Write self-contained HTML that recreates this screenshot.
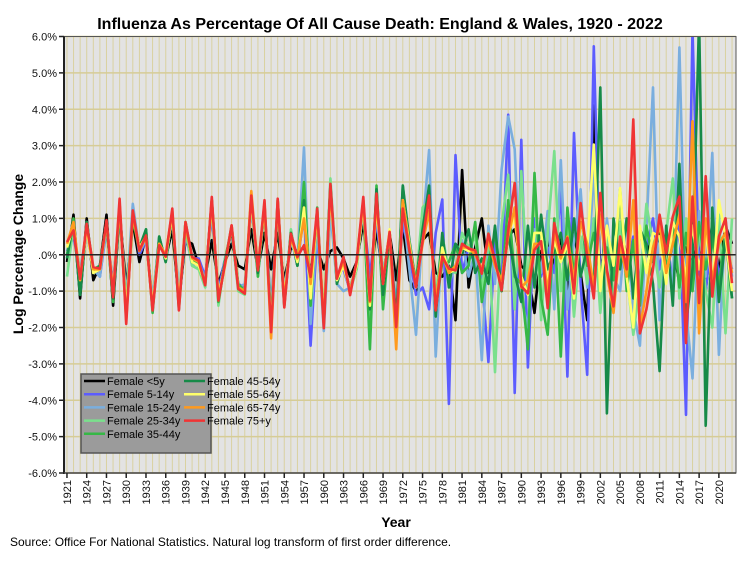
<!DOCTYPE html>
<html><head><meta charset="utf-8">
<style>
html,body{margin:0;padding:0;background:#fff;}
svg{display:block;font-family:"Liberation Sans",Arial,sans-serif;}
</style></head>
<body>
<svg id="chart" width="754" height="564" xmlns="http://www.w3.org/2000/svg">
<rect x="0" y="0" width="754" height="564" fill="#ffffff"/>
<text x="380" y="29" text-anchor="middle" font-size="16" font-weight="bold">Influenza As Percentage Of All Cause Death: England &amp; Wales, 1920 - 2022</text>
<text transform="translate(23,254) rotate(-90)" text-anchor="middle" font-size="14" font-weight="bold">Log Percentage Change</text>
<text x="396" y="527" text-anchor="middle" font-size="14" font-weight="bold">Year</text>
<text x="10" y="546" font-size="12">Source: Office For National Statistics. Natural log transform of first order difference.</text>
<g id="plot"></g>
</svg>
<script>
const years = [];
for (let y = 1921; y <= 2022; y++) years.push(y);
const yTicks = [6,5,4,3,2,1,0,-1,-2,-3,-4,-5,-6];
const yTickLabels = ["6.0%","5.0%","4.0%","3.0%","2.0%","1.0%",".0%","-1.0%","-2.0%","-3.0%","-4.0%","-5.0%","-6.0%"];
const xTickYears = [1921,1924,1927,1930,1933,1936,1939,1942,1945,1948,1951,1954,1957,1960,1963,1966,1969,1972,1975,1978,1981,1984,1987,1990,1993,1996,1999,2002,2005,2008,2011,2014,2017,2020];
const seriesNames = ["Female <5y","Female 5-14y","Female 15-24y","Female 25-34y","Female 35-44y","Female 45-54y","Female 55-64y","Female 65-74y","Female 75+y"];

const female_lt5 = [-0.2,1.1,-1.2,1.0,-0.7,-0.3,1.1,-1.4,1.2,-0.9,
0.9,-0.2,0.5,-1.4,0.4,-0.1,0.7,-1.3,0.4,0.3,
-0.3,-0.6,0.4,-0.8,-0.2,0.3,-0.3,-0.4,0.7,-0.4,
0.6,-0.4,0.6,-0.7,0.2,0.1,0.2,-0.4,0.2,-0.4,
0.1,0.2,-0.1,-0.6,-0.2,0.9,-0.8,0.7,-0.6,0.6,
-0.7,0.8,-0.7,-1.0,0.4,0.6,-0.5,-0.6,-0.3,-1.8,
2.33,-0.9,0.2,1.0,-0.5,0.3,-0.6,0.5,0.7,-0.3,
-0.5,-1.6,0.1,0.4,-0.3,0.5,-1.0,0.6,-0.5,-1.8,
4.1,-0.5,0.6,-0.3,0.9,-0.1,0.3,-0.9,0.4,-0.2,
0.6,-0.5,0.3,-0.8,0.2,-0.3,0.6,-1.0,0.9,-0.5,
0.8,0.3];
const female_5_14 = [0.1,0.5,-0.5,0.6,-0.4,-0.6,0.7,-0.8,1.2,-1.3,
1.2,0.0,0.4,-1.3,0.3,-0.1,1.0,-1.2,0.5,-0.1,
-0.1,-0.6,1.1,-1.0,-0.1,0.6,-0.8,-0.9,1.4,-0.5,
1.2,-1.5,1.3,-1.2,0.5,-0.3,1.2,-2.5,0.6,-1.8,
1.2,-0.5,-0.4,-1.0,-0.2,1.2,-0.6,1.0,-0.9,0.5,
-1.5,0.9,0.0,-1.1,-0.9,-1.5,0.6,1.52,-4.1,2.74,
-0.5,0.2,-0.3,-0.6,-2.95,0.4,-0.8,3.85,-3.8,3.16,
-3.1,1.0,-0.6,0.2,-0.5,1.79,-3.35,3.35,-0.8,-3.3,
5.73,-1.0,0.9,-0.6,0.3,-0.4,0.5,-0.8,0.2,1.0,
-0.4,0.6,-0.8,1.0,-4.4,6.2,-0.5,-1.0,0.8,-0.6,
0.3,-0.4];
const female_15_24 = [0.0,0.6,-0.4,0.6,-0.4,-0.6,0.8,-1.0,1.2,-1.2,
1.4,0.1,0.4,-1.2,0.4,-0.1,1.0,-1.0,0.6,-0.3,
-0.2,-0.7,1.3,-1.1,-0.2,0.7,-0.9,-0.8,1.4,-0.4,
1.2,-1.6,1.2,-1.0,0.4,-0.2,2.95,-1.9,0.8,-2.1,
1.2,-0.8,-1.0,-0.9,-0.3,1.3,-1.1,1.2,-0.5,0.5,
-1.4,1.3,-0.4,-2.2,0.7,2.88,-2.8,0.6,-0.8,-0.3,
0.4,-0.6,0.1,-2.9,0.8,-0.8,2.34,3.8,2.9,-1.2,
-2.0,0.7,-0.5,1.2,-1.5,2.6,-1.5,0.4,1.8,-0.9,
2.3,-0.8,1.0,-0.6,-1.0,1.0,-1.5,-2.5,0.7,4.6,
-1.8,0.6,-1.0,5.7,-1.5,-3.4,1.2,-0.6,2.8,-2.75,
1.0,-0.6];
const female_25_34 = [-0.6,0.8,-1.0,0.9,-0.5,-0.4,0.8,-1.2,1.3,-1.4,
1.2,0.1,0.6,-1.5,0.4,-0.1,1.1,-1.4,0.7,-0.3,
-0.4,-0.9,1.4,-1.4,-0.1,0.7,-1.0,-1.1,1.5,-0.6,
1.3,-1.8,1.3,-1.4,0.7,-0.3,2.0,-1.0,1.0,-1.7,
2.1,-0.7,-0.3,-1.0,-0.4,1.4,-1.7,1.6,-0.6,0.5,
-2.2,1.8,0.1,-0.8,1.3,1.5,-1.2,0.5,-0.4,-0.5,
0.6,0.2,0.5,-1.0,0.6,-3.23,0.8,2.2,-1.5,2.3,
-1.0,2.0,-1.8,0.6,2.85,-1.0,0.8,-1.7,0.5,-0.8,
1.0,-1.6,0.5,-1.3,0.9,-0.5,-2.2,-0.8,1.4,0.3,
-0.9,0.6,2.1,-1.2,1.0,-0.8,0.7,-1.0,-2.0,1.1,
-2.16,1.0];
const female_35_44 = [0.0,1.0,-1.1,0.9,-0.4,-0.3,0.9,-1.3,1.4,-1.7,
1.0,0.1,0.7,-1.6,0.5,-0.2,1.1,-1.5,0.9,-0.1,
-0.3,-0.8,1.5,-1.3,-0.2,0.8,-0.8,-1.0,1.6,-0.6,
1.4,-1.9,1.5,-1.3,0.6,-0.3,2.0,-1.4,1.3,-1.9,
1.9,-0.7,-0.2,-1.0,-0.2,1.5,-2.6,1.9,-1.5,0.6,
-2.0,1.9,0.1,-0.7,0.6,1.6,-1.5,-0.2,-0.2,0.3,
-0.5,-0.3,0.9,-1.3,-0.2,0.6,-1.0,1.5,-0.6,-0.8,
-2.6,2.25,-1.2,-2.2,1.0,-2.8,1.3,-0.6,1.2,-0.3,
0.6,-0.5,0.2,-0.7,1.8,-1.0,0.4,-1.4,0.8,-0.2,
0.9,-0.4,0.8,-0.9,0.6,-1.0,0.9,-0.4,0.5,-0.9,
0.7,-1.2];
const female_45_54 = [-0.1,0.9,-1.1,0.9,-0.5,-0.3,0.9,-1.2,1.3,-1.6,
1.1,0.2,0.7,-1.5,0.5,-0.2,1.1,-1.4,0.9,-0.2,
-0.3,-0.8,1.5,-1.2,-0.2,0.7,-0.9,-1.0,1.6,-0.5,
1.3,-2.0,1.4,-1.4,0.6,-0.3,1.5,-1.2,1.2,-1.9,
1.9,-0.8,-0.2,-1.0,-0.3,1.4,-1.5,1.8,-1.1,0.6,
-1.8,1.9,0.4,-0.8,0.7,1.9,-1.7,0.6,-0.9,0.3,
0.0,0.7,-0.5,-0.1,-0.8,0.8,-1.0,0.6,-0.5,-1.3,
0.8,-0.9,1.1,-0.4,0.1,0.6,-0.7,1.0,-0.6,0.2,
-1.0,4.6,-4.36,1.0,-0.4,1.0,-1.2,0.7,0.3,-0.8,
-3.2,0.8,-1.4,2.5,-1.9,-0.4,6.5,-4.7,1.3,-1.3,
0.5,-1.2];
const female_55_64 = [0.2,0.8,-0.6,0.7,-0.5,-0.4,0.9,-1.0,1.4,-1.6,
1.1,0.2,0.5,-1.4,0.3,-0.1,1.1,-1.3,0.9,-0.2,
-0.3,-0.8,1.4,-1.1,-0.3,0.8,-0.9,-1.0,1.5,-0.4,
1.3,-2.0,1.4,-1.2,0.5,-0.2,1.3,-1.2,1.2,-1.8,
1.7,-0.7,-0.3,-1.0,-0.3,1.4,-1.4,1.4,-0.8,0.7,
-2.2,1.5,0.3,-0.9,0.4,1.3,-1.5,0.2,-0.5,-0.4,
0.2,0.1,0.1,-0.5,0.5,-0.3,-0.8,0.6,1.0,-0.6,
-1.1,0.6,0.6,-0.8,0.4,-0.2,0.3,-1.2,1.0,0.1,
3.03,-1.0,0.8,-0.3,1.83,-0.6,-2.0,0.8,-0.5,0.6,
0.5,-0.8,0.9,0.5,-0.6,0.8,-0.4,0.7,-0.9,1.5,
0.5,-1.0];
const female_65_74 = [0.3,0.9,-0.7,0.8,-0.4,-0.4,0.9,-1.1,1.4,-1.8,
1.1,0.1,0.5,-1.5,0.3,0.0,1.2,-1.4,0.8,-0.1,
-0.2,-0.8,1.5,-1.2,-0.3,0.8,-0.9,-1.0,1.75,-0.4,
1.4,-2.3,1.5,-1.3,0.5,-0.1,1.0,-0.8,1.2,-1.9,
1.8,-0.6,-0.2,-1.0,-0.2,1.5,-1.3,1.5,-0.7,0.6,
-2.6,1.5,0.2,-0.8,0.3,1.2,-1.3,0.0,-0.5,-0.3,
0.2,0.2,0.0,-0.4,0.4,-0.3,-0.7,0.5,1.3,-0.9,
-0.7,0.3,0.3,-1.0,0.6,-0.1,0.5,-0.7,0.9,0.3,
-0.9,1.1,-0.5,-1.6,0.3,-0.6,1.5,-2.0,-1.0,0.2,
0.8,-0.5,0.3,1.1,-1.3,3.67,-2.16,1.0,-0.7,0.3,
0.6,-0.5];
const female_75plus = [0.35,0.67,-0.66,0.85,-0.34,-0.38,0.95,-1.17,1.54,-1.9,
1.22,0.12,0.53,-1.53,0.26,-0.06,1.27,-1.53,0.9,-0.06,
-0.16,-0.84,1.59,-1.26,-0.25,0.81,-0.94,-1.07,1.63,-0.43,
1.5,-2.13,1.54,-1.45,0.58,-0.06,0.26,-0.61,1.27,-2.02,
1.95,-0.66,-0.06,-1.11,-0.16,1.59,-1.26,1.68,-0.8,0.63,
-1.99,1.27,0.12,-0.89,0.39,1.63,-1.53,-0.06,-0.38,-0.43,
0.3,0.17,0.12,-0.52,0.58,-0.16,-0.98,0.67,1.97,-0.87,
-1.06,0.14,0.37,-1.47,0.87,0,0.46,-1.06,1.42,-0.05,
-1.2,1.7,-0.4,-1.42,0.5,-0.4,3.72,-2.16,-1.5,-0.4,
1.1,0.05,1.05,1.6,-2.43,1.6,-1.33,2.16,-1.15,0.5,
1.0,-0.78];

const NS = "http://www.w3.org/2000/svg";
const PL = 64, PR = 736, PT = 36.5, PB = 473;
const X0 = 1920.55, X1 = 2022.6;
function xs(yr){ return PL + (yr - X0) / (X1 - X0) * (PR - PL); }
function ys(v){ return PB - (v + 6) / 12 * (PB - PT); }
const plot = document.getElementById('plot');
function mk(tag, attrs, parent){
  const e = document.createElementNS(NS, tag);
  for (const k in attrs) e.setAttribute(k, attrs[k]);
  (parent || plot).appendChild(e);
  return e;
}
const bg = mk('rect',{x:PL,y:PT,width:PR-PL,height:PB-PT,fill:'#e3e3e3'});


const grid = mk('g',{});


years.forEach(yr=>{ mk('line',{x1:xs(yr),x2:xs(yr),y1:PT,y2:PB,stroke:'#d9d1a0','stroke-width':1},grid); });
yTicks.forEach(v=>{ mk('line',{x1:PL,x2:PR,y1:ys(v),y2:ys(v),stroke:'#d6cc96','stroke-width':1.5},grid); });

const defs = mk('defs',{});
const cp = mk('clipPath',{id:'clip'},defs);
mk('rect',{x:PL,y:PT,width:PR-PL,height:PB-PT},cp);

const allSeries = [female_lt5,female_5_14,female_15_24,female_25_34,female_35_44,female_45_54,female_55_64,female_65_74,female_75plus];
const colors = ['#000000','#5c5cff','#7aaede','#7ae08c','#36b846','#168a48','#ffff6a','#ff9a1e','#f03434'];
const slugs = ['lt5','5-14','15-24','25-34','35-44','45-54','55-64','65-74','75plus'];
const lines = mk('g',{'clip-path':'url(#clip)'});
allSeries.forEach((s,i)=>{
  const d = s.map((v,j)=>(j?'L':'M')+xs(years[j]).toFixed(1)+','+ys(v).toFixed(1)).join(' ');
  const p = mk('path',{d:d,fill:'none',stroke:colors[i],'stroke-width':2.6,'stroke-linejoin':'round'},lines);
  
  
});
const zl = mk('line',{x1:PL,x2:PR,y1:ys(0),y2:ys(0),stroke:'#222','stroke-width':1.5});



const border = mk('rect',{x:PL,y:PT,width:PR-PL,height:PB-PT,fill:'none',stroke:'#555','stroke-width':1});


const yAxis = mk('line',{x1:PL,x2:PL,y1:PT,y2:PB+1,stroke:'#222','stroke-width':2});


const xAxis = mk('line',{x1:PL,x2:PR,y1:PB,y2:PB,stroke:'#444','stroke-width':1.5});



yTicks.forEach((v,i)=>{
  mk('line',{x1:PL-5,x2:PL,y1:ys(v),y2:ys(v),stroke:'#222','stroke-width':1.5});
  const t = mk('text',{x:PL-7,y:ys(v)+4,'text-anchor':'end','font-size':11,fill:'#111'});
  t.textContent = yTickLabels[i];
  
  
});
xTickYears.forEach(yr=>{
  mk('line',{x1:xs(yr),x2:xs(yr),y1:PB,y2:PB+5,stroke:'#222','stroke-width':1.5});
  const t = mk('text',{transform:'translate('+(xs(yr)+4)+','+(PB+7)+') rotate(-90)','text-anchor':'end','font-size':11,fill:'#111'});
  t.textContent = String(yr);
  
  
});

const lg = mk('g',{});


mk('rect',{x:81,y:374,width:130,height:79,fill:'#9b9b9b',stroke:'#555','stroke-width':1.5},lg);
seriesNames.forEach((n,i)=>{
  const col = i<5?0:1, row = i<5?i:i-5;
  const lx = 84 + col*100, ly = 381 + row*13.2;
  const e = mk('g',{},lg);
  
  
  mk('line',{x1:lx,x2:lx+21,y1:ly,y2:ly,stroke:colors[i],'stroke-width':2.5},e);
  const t = mk('text',{x:lx+23,y:ly+4,'font-size':11,fill:'#000'},e);
  t.textContent = n;
});
</script>
</body></html>
